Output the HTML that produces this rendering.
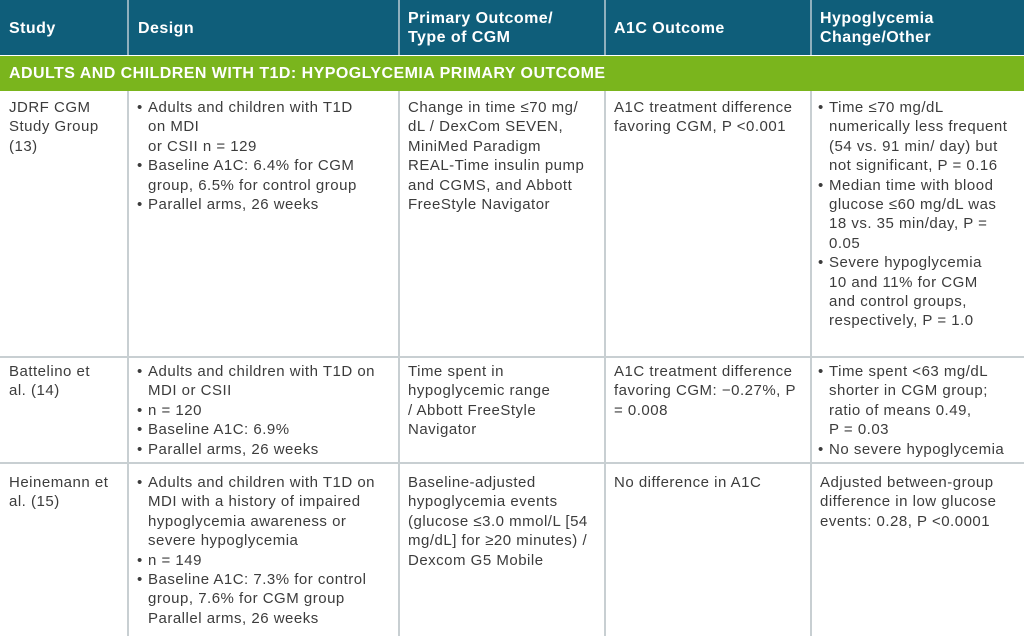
<!DOCTYPE html>
<html><head><meta charset="utf-8"><style>
body{margin:0;width:1024px;height:636px;overflow:hidden;background:#fff;position:relative;font-family:"Liberation Sans",sans-serif;}
.hdr{position:absolute;left:0;top:0;width:1024px;height:55px;background:#0f5e7a;}
.band{position:absolute;left:0;top:56px;width:1024px;height:35px;background:#7ab51d;}
.vl{position:absolute;width:2px;background:#c8cfd2;}
.vh{position:absolute;width:2px;background:#8fb0bd;top:0;height:55px;}
.hl{position:absolute;left:0;width:1024px;height:2px;background:#c8cfd2;}
.h{position:absolute;color:#fff;font-weight:bold;font-size:16px;line-height:19px;white-space:nowrap;letter-spacing:0.45px;}
.c{position:absolute;color:#3c3c3c;font-size:15px;line-height:19.4px;white-space:nowrap;letter-spacing:0.5px;}
.b{position:relative;padding-left:11px;}
.b:before{content:"•";position:absolute;left:0;}
</style></head><body>
<div class="hdr"></div>
<div class="vh" style="left:127px"></div><div class="vh" style="left:398px"></div><div class="vh" style="left:604px"></div><div class="vh" style="left:810px"></div>
<div class="h" style="left:9px;top:19px">Study</div>
<div class="h" style="left:138px;top:19px">Design</div>
<div class="h" style="left:408px;top:9px">Primary Outcome/<br>Type of CGM</div>
<div class="h" style="left:614px;top:19px">A1C Outcome</div>
<div class="h" style="left:820px;top:9px">Hypoglycemia<br>Change/Other</div>
<div class="band"></div>
<div class="h" style="left:9px;top:64px">ADULTS AND CHILDREN WITH T1D: HYPOGLYCEMIA PRIMARY OUTCOME</div>
<div class="vl" style="left:127px;top:91px;height:545px"></div>
<div class="vl" style="left:398px;top:91px;height:545px"></div>
<div class="vl" style="left:604px;top:91px;height:545px"></div>
<div class="vl" style="left:810px;top:91px;height:545px"></div>
<div class="hl" style="top:356px"></div>
<div class="hl" style="top:462px"></div>

<div class="c" style="left:9px;top:98px">JDRF CGM<br>Study Group<br>(13)</div>
<div class="c" style="left:137px;top:98px"><div class="b">Adults and children with T1D<br>on MDI<br>or CSII n = 129</div><div class="b">Baseline A1C: 6.4% for CGM<br>group, 6.5% for control group</div><div class="b">Parallel arms, 26 weeks</div></div>
<div class="c" style="left:408px;top:98px">Change in time ≤70 mg/<br>dL / DexCom SEVEN,<br>MiniMed Paradigm<br>REAL-Time insulin pump<br>and CGMS, and Abbott<br>FreeStyle Navigator</div>
<div class="c" style="left:614px;top:98px">A1C treatment difference<br>favoring CGM, P &lt;0.001</div>
<div class="c" style="left:818px;top:98px"><div class="b">Time ≤70 mg/dL<br>numerically less frequent<br>(54 vs. 91 min/ day) but<br>not significant, P = 0.16</div><div class="b">Median time with blood<br>glucose ≤60 mg/dL was<br>18 vs. 35 min/day, P =<br>0.05</div><div class="b">Severe hypoglycemia<br>10 and 11% for CGM<br>and control groups,<br>respectively, P = 1.0</div></div>

<div class="c" style="left:9px;top:362px">Battelino et<br>al. (14)</div>
<div class="c" style="left:137px;top:362px"><div class="b">Adults and children with T1D on<br>MDI or CSII</div><div class="b">n = 120</div><div class="b">Baseline A1C: 6.9%</div><div class="b">Parallel arms, 26 weeks</div></div>
<div class="c" style="left:408px;top:362px">Time spent in<br>hypoglycemic range<br>/ Abbott FreeStyle<br>Navigator</div>
<div class="c" style="left:614px;top:362px">A1C treatment difference<br>favoring CGM: −0.27%, P<br>= 0.008</div>
<div class="c" style="left:818px;top:362px"><div class="b">Time spent &lt;63 mg/dL<br>shorter in CGM group;<br>ratio of means 0.49,<br>P = 0.03</div><div class="b">No severe hypoglycemia</div></div>

<div class="c" style="left:9px;top:473px">Heinemann et<br>al. (15)</div>
<div class="c" style="left:137px;top:473px"><div class="b">Adults and children with T1D on<br>MDI with a history of impaired<br>hypoglycemia awareness or<br>severe hypoglycemia</div><div class="b">n = 149</div><div class="b">Baseline A1C: 7.3% for control<br>group, 7.6% for CGM group<br>Parallel arms, 26 weeks</div></div>
<div class="c" style="left:408px;top:473px">Baseline-adjusted<br>hypoglycemia events<br>(glucose ≤3.0 mmol/L [54<br>mg/dL] for ≥20 minutes) /<br>Dexcom G5 Mobile</div>
<div class="c" style="left:614px;top:473px">No difference in A1C</div>
<div class="c" style="left:820px;top:473px">Adjusted between-group<br>difference in low glucose<br>events: 0.28, P &lt;0.0001</div>
</body></html>
